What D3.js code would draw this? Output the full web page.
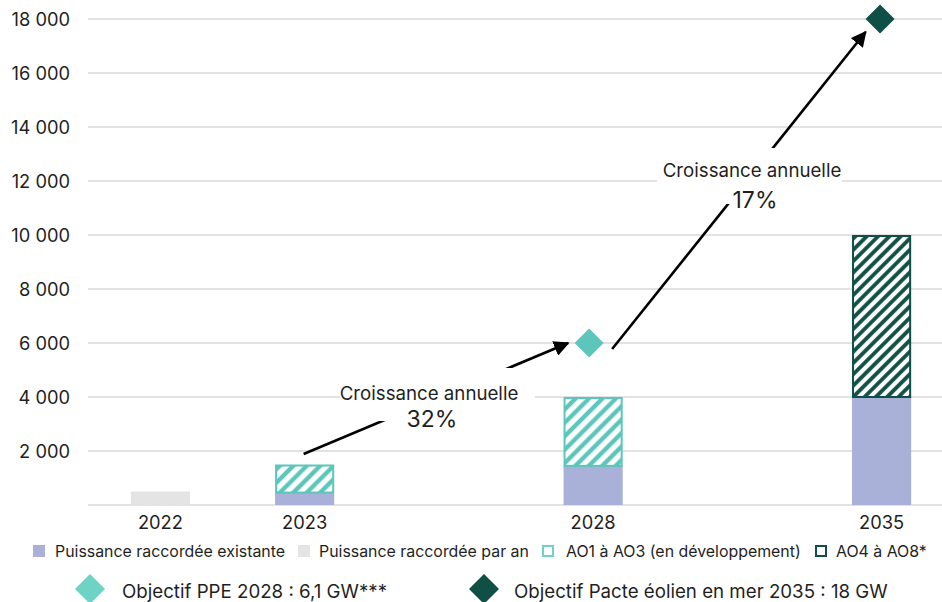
<!DOCTYPE html>
<html>
<head>
<meta charset="utf-8">
<script src="https://cdn.jsdelivr.net/npm/d3@7/dist/d3.min.js"></script>
<style>
  html, body { margin: 0; padding: 0; background: #fff; }
  svg { display: block; font-family: Inter, "Noto Sans", sans-serif; }
</style>
</head>
<body>
<svg id="chart" width="942" height="602"></svg>
<script>
// ---- Data ----
const categories = ["2022", "2023", "gap1", "2028", "gap2", "2035"];
const tickLabels = ["2022", "2023", "", "2028", "", "2035"];
const existante  = [0, 460, 0, 1450, 0, 4000];
const parAn      = [500, 0, 0, 0, 0, 0];
const ao1ao3     = [0, 1040, 0, 2550, 0, 0];
const ao4ao8     = [0, 0, 0, 0, 0, 6000];
const yTicks     = [2000, 4000, 6000, 8000, 10000, 12000, 14000, 16000, 18000];
const objectifs  = [
  { cat: "2028", value: 6000, color: "#5bc6b9" },
  { cat: "2035", value: 18000, color: "#0f4f45" }
];
const growthLabels = [
  { title: "Croissance annuelle", pct: "32%", from: ["2023", 1890], to: ["2028", 6000] },
  { title: "Croissance annuelle", pct: "17%", from: ["2028", 6000], to: ["2035", 18000] }
];
const legend1 = ["Puissance raccordée existante", "Puissance raccordée par an", "AO1 à AO3 (en développement)", "AO4 à AO8*"];
const legend2 = ["Objectif PPE 2028 : 6,1 GW***", "Objectif Pacte éolien en mer 2035 : 18 GW"];

const C = {
  existante: "#a9b1d8",
  parAn: "#e4e4e4",
  teal: "#5bc6b9",
  dark: "#0f4f45",
  tealDiamond: "#6dd3c5",
  grid: "#d9d9d9",
  text: "#1f1f1f"
};

const svg = d3.select("#chart");
const W = 942, H = 602;

const x = d3.scaleBand().domain(categories).range([88, 954]).paddingInner(0.59).paddingOuter(0.297);
const y = d3.scaleLinear().domain([0, 18000]).range([505, 19]);

// patterns
const defs = svg.append("defs");
function hatch(id, color, size, sw) {
  const p = defs.append("pattern").attr("id", id).attr("patternUnits", "userSpaceOnUse")
    .attr("width", size).attr("height", size).attr("patternTransform", "rotate(45)");
  p.append("rect").attr("width", size).attr("height", size).attr("fill", "#fff");
  p.append("line").attr("x1", size / 2).attr("y1", 0).attr("x2", size / 2).attr("y2", size)
    .attr("stroke", color).attr("stroke-width", sw);
}
hatch("hTeal", C.teal, 9.5, 4.4);
hatch("hDark", C.dark, 8, 3.8);

// gridlines
const g = svg.append("g");
g.selectAll("line.grid").data([0, ...yTicks]).join("line")
  .attr("x1", 88).attr("x2", W)
  .attr("y1", d => y(d)).attr("y2", d => y(d))
  .attr("stroke", C.grid).attr("stroke-width", 1.5);

// y axis labels
const yAxis = d3.axisLeft(y).tickValues(yTicks).tickSize(0).tickPadding(0)
  .tickFormat(d => d3.format(",")(d).replace(/,/g, " "));
const ya = svg.append("g").attr("transform", "translate(70,0)").call(yAxis);
ya.select(".domain").remove();
ya.selectAll("text").attr("font-size", 18.3).attr("fill", C.text).attr("font-family", "Inter").attr("dy", "0.35em");

// x axis labels
const xAxis = d3.axisBottom(x).tickSize(0).tickPadding(0).tickFormat((d, i) => tickLabels[i]);
const xa = svg.append("g").attr("transform", "translate(0,516)").call(xAxis);
xa.select(".domain").remove();
xa.selectAll("text").attr("font-size", 18.3).attr("fill", C.text).attr("font-family", "Inter");

// stacked bars
const rows = categories.map((c, i) => ({ cat: c, existante: existante[i], parAn: parAn[i], ao13: ao1ao3[i], ao48: ao4ao8[i] }));
const keys = ["existante", "parAn", "ao13", "ao48"];
const stack = d3.stack().keys(keys)(rows);
const fills = { existante: C.existante, parAn: C.parAn, ao13: "url(#hTeal)", ao48: "url(#hDark)" };
const strokes = { existante: "none", parAn: "none", ao13: C.teal, ao48: C.dark };
const bars = svg.append("g");
stack.forEach(layer => {
  const k = layer.key;
  const o = strokes[k] === "none" ? 0 : 1;
  bars.selectAll(null).data(layer.filter(d => d[1] - d[0] > 0)).join("rect")
    .attr("x", d => x(d.data.cat) + o)
    .attr("width", d => x.bandwidth() - 2 * o)
    .attr("y", d => y(d[1]) + o)
    .attr("height", d => y(d[0]) - y(d[1]) - o)
    .attr("fill", fills[k])
    .attr("stroke", strokes[k])
    .attr("stroke-width", 2);
});

// arrows
defs.append("marker").attr("id", "arrow").attr("viewBox", "0 0 10 10")
  .attr("refX", 9).attr("refY", 5).attr("markerWidth", 6).attr("markerHeight", 6)
  .attr("markerUnits", "strokeWidth").attr("orient", "auto")
  .append("path").attr("d", "M0,0 L10,5 L0,10 Z").attr("fill", "#000");

const cx = c => x(c) + x.bandwidth() / 2;
const arrowG = svg.append("g");
arrowG.append("line")
  .attr("x1", cx("2023") - 1).attr("y1", y(growthLabels[0].from[1]))
  .attr("x2", cx("2028") - 25).attr("y2", y(growthLabels[0].to[1]))
  .attr("stroke", "#000").attr("stroke-width", 2.6).attr("marker-end", "url(#arrow)");
arrowG.append("line")
  .attr("x1", cx("2028") + 19).attr("y1", y(growthLabels[1].from[1]) + 6)
  .attr("x2", cx("2035") - 16).attr("y2", y(growthLabels[1].to[1]) + 13)
  .attr("stroke", "#000").attr("stroke-width", 2.6).attr("marker-end", "url(#arrow)");

// label boxes (white) and texts
const boxes = [
  { x0: 340, x1: 535, y0: 368, y1: 421, tx: 429, ty1: 400, ty2: 427 },
  { x0: 657, x1: 842, y0: 148, y1: 204, tx: 752, ty1: 177, ty2: 208 }
];
growthLabels.forEach((lab, i) => {
  const b = boxes[i];
  svg.append("rect").attr("x", b.x0).attr("y", b.y0).attr("width", b.x1 - b.x0).attr("height", b.y1 - b.y0).attr("fill", "#fff");
  svg.append("text").attr("x", b.tx).attr("y", b.ty1).attr("text-anchor", "middle")
    .attr("font-size", 18.7).attr("fill", C.text).text(lab.title);
  svg.append("text").attr("x", b.tx + 3).attr("y", b.ty2).attr("text-anchor", "middle")
    .attr("font-size", 23).attr("fill", C.text).text(lab.pct);
});

// diamonds
const diamond = s => `M0,${-s} L${s},0 L0,${s} L${-s},0 Z`;
svg.append("g").selectAll("path").data(objectifs).join("path")
  .attr("transform", d => `translate(${cx(d.cat) - (d.cat === "2028" ? 4 : 1.5)},${y(d.value)})`)
  .attr("d", diamond(14.5))
  .attr("fill", d => d.color);

// legend row 1
const lg = svg.append("g").attr("font-size", 15.9).attr("fill", C.text);
const l1 = [
  { sx: 33, tx: 55, type: "fill", color: C.existante },
  { sx: 298, tx: 319, type: "fill", color: C.parAn },
  { sx: 542, tx: 566, type: "outline", color: C.tealDiamond },
  { sx: 815, tx: 836, type: "outline", color: C.dark }
];
l1.forEach((it, i) => {
  if (it.type === "fill") {
    lg.append("rect").attr("x", it.sx).attr("y", 545).attr("width", 12).attr("height", 12).attr("fill", it.color);
  } else {
    lg.append("rect").attr("x", it.sx + 1).attr("y", 546).attr("width", 10).attr("height", 10)
      .attr("fill", "#fff").attr("stroke", it.color).attr("stroke-width", 2);
  }
  lg.append("text").attr("x", it.tx).attr("y", 557).text(legend1[i]);
});

// legend row 2
const l2 = [
  { cx: 90, tx: 122, color: C.tealDiamond },
  { cx: 484, tx: 514, color: C.dark }
];
l2.forEach((it, i) => {
  svg.append("path").attr("transform", `translate(${it.cx},589)`).attr("d", diamond(15)).attr("fill", it.color);
  svg.append("text").attr("x", it.tx).attr("y", 598).attr("font-size", 18.7).attr("fill", C.text).text(legend2[i]);
});
</script>
</body>
</html>
